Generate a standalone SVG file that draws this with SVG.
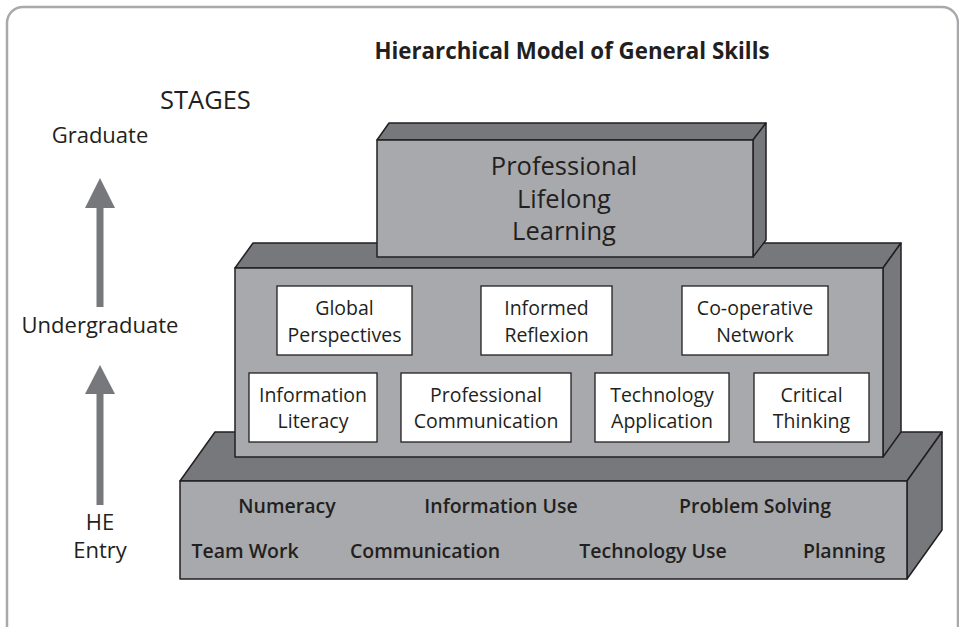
<svg xmlns="http://www.w3.org/2000/svg" width="959" height="627" viewBox="0 0 959 627">
<style>
.t{font-family:"Open Sans","Liberation Sans",sans-serif;fill:#231f20}
.front{fill:#a7a9ac;stroke:#231f20;stroke-width:1.5;stroke-linejoin:round}
.dark{fill:#77787b;stroke:#231f20;stroke-width:1.5;stroke-linejoin:round}
.box{fill:#ffffff;stroke:#231f20;stroke-width:1.3}
.bx{font-size:19.5px;text-anchor:middle}
.base{font-size:19.5px;font-weight:600;text-anchor:middle}
.stage{font-size:22px;text-anchor:middle}
.top{font-size:25.5px;text-anchor:middle}
</style>
<rect x="7" y="7" width="951" height="640" rx="16" fill="#ffffff" stroke="#a7a9ac" stroke-width="2.5"/>
<text class="t" x="572" y="59" font-size="22.3" font-weight="bold" text-anchor="middle">Hierarchical Model of General Skills</text>
<text class="t" x="160" y="109" font-size="25.5">STAGES</text>
<g id="stage-graduate"><text class="t stage" x="100" y="143">Graduate</text></g>
<g id="stage-undergraduate"><text class="t stage" x="100" y="333">Undergraduate</text></g>
<g id="stage-he-entry"><text class="t stage" x="100" y="530">HE</text><text class="t stage" x="100" y="558">Entry</text></g>
<g id="connectors" fill="#77787b">
<polygon points="100,178 115,208 103.5,208 103.5,307 96.5,307 96.5,208 85,208"/>
<polygon points="100,365 115,394 103.5,394 103.5,505 96.5,505 96.5,394 85,394"/>
</g>
<g id="tier-base">
<polygon class="dark" points="180,481 215,432 942,432 907,481"/>
<polygon class="dark" points="907,481 942,432 942,530 907,579"/>
<rect class="front" x="180" y="481" width="727" height="98"/>
<text class="t base" x="287" y="513">Numeracy</text>
<text class="t base" x="501" y="513">Information Use</text>
<text class="t base" x="755" y="513">Problem Solving</text>
<text class="t base" x="245" y="558">Team Work</text>
<text class="t base" x="425" y="558">Communication</text>
<text class="t base" x="653" y="558">Technology Use</text>
<text class="t base" x="844" y="558">Planning</text>
</g>
<g id="tier-middle">
<polygon class="dark" points="235,268 253,243 901,243 883,268"/>
<polygon class="dark" points="883,268 901,243 901,432 883,457"/>
<rect class="front" x="235" y="268" width="648" height="189"/>
</g>
<g id="global-perspectives"><rect class="box" x="277" y="286" width="135" height="69"/><text class="t bx" x="344.5" y="315">Global</text><text class="t bx" x="344.5" y="342">Perspectives</text></g>
<g id="informed-reflexion"><rect class="box" x="481" y="286" width="131" height="69"/><text class="t bx" x="546.5" y="315">Informed</text><text class="t bx" x="546.5" y="342">Reflexion</text></g>
<g id="co-operative-network"><rect class="box" x="682" y="286" width="146" height="69"/><text class="t bx" x="755" y="315">Co-operative</text><text class="t bx" x="755" y="342">Network</text></g>
<g id="information-literacy"><rect class="box" x="249" y="373" width="128" height="69"/><text class="t bx" x="313" y="402">Information</text><text class="t bx" x="313" y="428">Literacy</text></g>
<g id="professional-communication"><rect class="box" x="401" y="373" width="170" height="69"/><text class="t bx" x="486" y="402">Professional</text><text class="t bx" x="486" y="428">Communication</text></g>
<g id="technology-application"><rect class="box" x="595" y="373" width="134" height="69"/><text class="t bx" x="662" y="402">Technology</text><text class="t bx" x="662" y="428">Application</text></g>
<g id="critical-thinking"><rect class="box" x="754" y="373" width="115" height="69"/><text class="t bx" x="811.5" y="402">Critical</text><text class="t bx" x="811.5" y="428">Thinking</text></g>
<g id="tier-top">
<polygon class="dark" points="377,140 389,123 766,123 753,140"/>
<polygon class="dark" points="753,140 766,123 766,240 753,257"/>
<rect class="front" x="377" y="140" width="376" height="117"/>
<text class="t top" x="564" y="175">Professional</text>
<text class="t top" x="564" y="208">Lifelong</text>
<text class="t top" x="564" y="240">Learning</text>
</g>
</svg>
